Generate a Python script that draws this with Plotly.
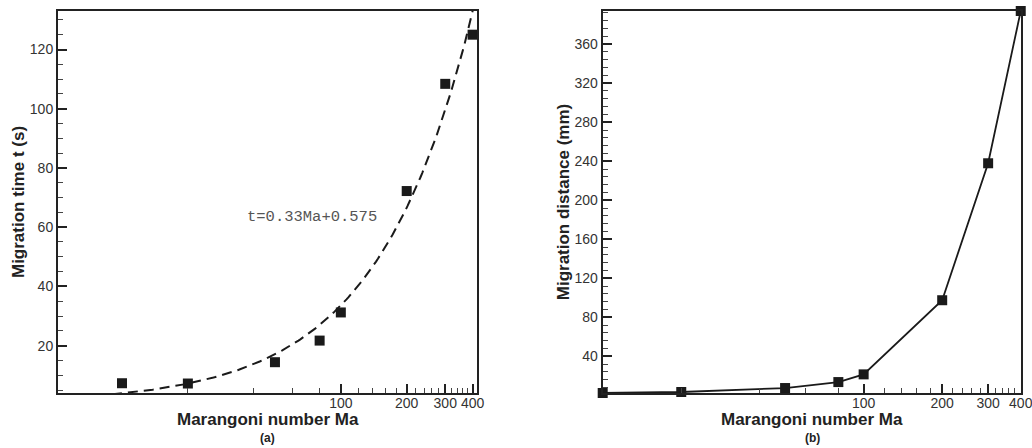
import numpy as np
import plotly.graph_objects as go

# ---- data ----
ma_a = [10, 20, 50, 80, 100, 200, 300, 400]
time_a = [7.3, 7.2, 14.4, 21.7, 31.2, 72.2, 108.4, 125.0]
fit_slope = 0.33
fit_intercept = 0.575

ma_b = [10, 20, 50, 80, 100, 200, 300, 400]
dist_b = [2.4, 3.4, 7.5, 13.6, 21.5, 97.5, 237.9, 394.0]

x_major = [100, 200, 300, 400]
x_major_text = ["100", "200", "300", "400"]
x_minor = [20, 40, 60, 80, 120, 140, 160, 180, 220, 240, 260, 280, 320, 340, 360, 380]
ya_ticks = [20, 40, 60, 80, 100, 120]
yb_ticks = [40, 80, 120, 160, 200, 240, 280, 320, 360]

fit_ma = np.geomspace(9, 430, 200)
fit_t = fit_slope * fit_ma + fit_intercept

FONT = "Liberation Sans, Arial, sans-serif"
AX = "#222222"
W, H = 1032, 448

fig = go.Figure()
fig.add_trace(go.Scatter(x=fit_ma, y=fit_t, mode="lines", xaxis="x", yaxis="y",
                         line=dict(color="#1a1a1a", width=2, dash="10px,6px"),
                         showlegend=False, hoverinfo="skip"))
fig.add_trace(go.Scatter(x=ma_a, y=time_a, mode="markers", xaxis="x", yaxis="y",
                         marker=dict(symbol="square", size=10, color="#1a1a1a"),
                         cliponaxis=False, showlegend=False))
fig.add_trace(go.Scatter(x=ma_b, y=dist_b, mode="lines+markers", xaxis="x2", yaxis="y2",
                         line=dict(color="#1a1a1a", width=1.8),
                         marker=dict(symbol="square", size=10, color="#1a1a1a"),
                         cliponaxis=False, showlegend=False))

def xaxis(domain, rng, anchor):
    return dict(domain=domain, type="log", range=rng, anchor=anchor,
                tickmode="array", tickvals=x_major, ticktext=x_major_text,
                ticks="inside", ticklen=9, tickwidth=1.5, tickcolor=AX,
                minor=dict(tickmode="array", tickvals=x_minor, ticks="inside",
                           ticklen=5, tickwidth=1, tickcolor="#444"),
                showline=True, linewidth=2, linecolor=AX, mirror=True,
                showgrid=False, zeroline=False, automargin=False,
                ticklabelstandoff=-4, ticklabeloverflow="allow",
                tickfont=dict(family=FONT, size=14, color="#333"))

def yaxis(anchor, rng, ticks, mdt, title):
    return dict(domain=[1 - 393 / H, 1 - 11 / H], anchor=anchor, range=rng,
                tickmode="array", tickvals=ticks,
                ticks="inside", ticklen=9, tickwidth=1.5, tickcolor=AX,
                minor=dict(tickmode="linear", tick0=0, dtick=mdt, ticks="inside",
                           ticklen=5, tickwidth=1, tickcolor="#444"),
                showline=True, linewidth=2, linecolor=AX, mirror=True,
                showgrid=False, zeroline=False, automargin=False,
                tickfont=dict(family=FONT, size=14, color="#333"),
                title=dict(text=title, standoff=1,
                           font=dict(family=FONT, size=17, color="#222", weight="bold")))

def ann(text, x, y, size, family=FONT, color="#222", weight="bold"):
    return dict(text=text, xref="paper", yref="paper", x=x / W, y=1 - y / H,
                xanchor="center", yanchor="middle", showarrow=False,
                font=dict(family=family, size=size, color=color, weight=weight))

fig.update_layout(
    width=W, height=H,
    margin=dict(l=0, r=0, t=0, b=0),
    template="none",
    paper_bgcolor="white", plot_bgcolor="white",
    xaxis=xaxis([58 / W, 477 / W], [np.log10(5.1), np.log10(419)], "y"),
    yaxis=yaxis("x", [4, 133], ya_ticks, 5, "Migration time t (s)"),
    xaxis2=xaxis([602.7 / W, 1021 / W], [1, np.log10(400) + 0.001], "y2"),
    yaxis2=yaxis("x2", [2.4, 394], yb_ticks, 8, "Migration distance (mm)"),
    annotations=[
        ann("t=0.33Ma+0.575", 311.5, 216.7, 15.5, "Liberation Mono, Courier New, monospace", "#555", "normal"),
        ann("Marangoni number Ma", 267.5, 419, 17),
        ann("Marangoni number Ma", 812, 419, 17),
        ann("(a)", 267.5, 438, 12),
        ann("(b)", 812, 438, 12),
    ],
)

fig.write_html("out.html", config={"displayModeBar": False},
               post_script="document.body.style.margin='0px';document.body.style.padding='0px';")
